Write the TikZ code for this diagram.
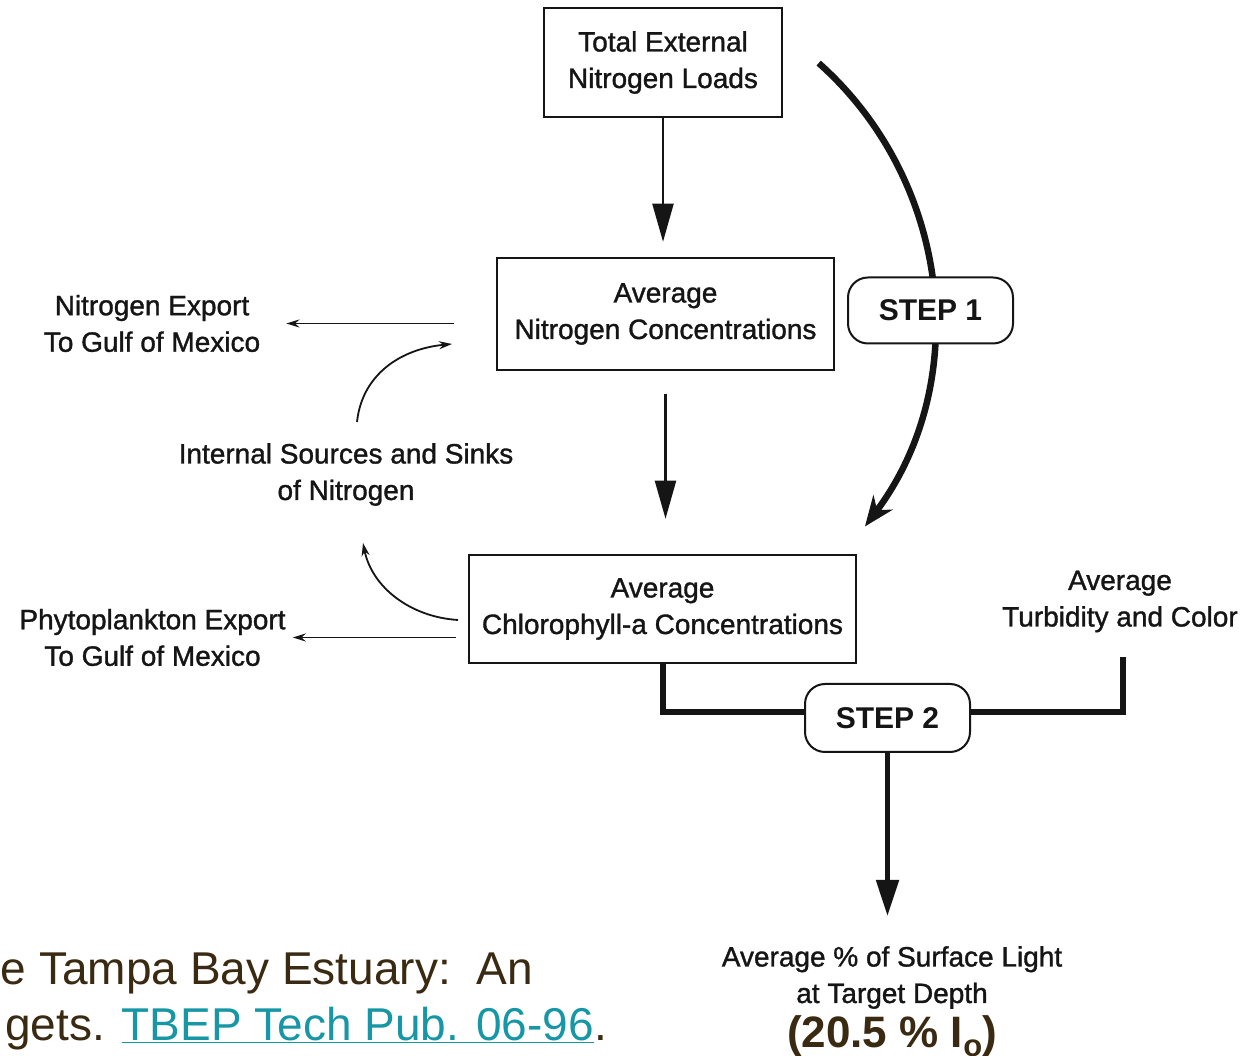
\documentclass[tikz,border=0pt]{standalone}
\usepackage{fontspec}
\setmainfont{Liberation Sans}
\newfontfamily\scanfam[FakeBold=1.2]{Liberation Sans}
\usetikzlibrary{arrows.meta}
\definecolor{ink}{HTML}{151515}
\definecolor{capbrown}{HTML}{3A2A12}
\definecolor{linkteal}{HTML}{1796A6}
\newcommand\dgfont{\scanfam\fontsize{28}{36.5}\selectfont}
\newcommand\stpfont{\fontsize{30}{36}\selectfont\bfseries}
\newcommand\capfnt{\fontsize{46}{55}\selectfont}
\newcommand\iofnt{\fontsize{44}{50}\selectfont\bfseries}
\tikzset{
  box/.style={draw=ink, line width=2.5pt, fill=white, align=center, font=\dgfont, text=ink, inner sep=0pt},
  stepbox/.style={draw=ink, line width=2pt, rounded corners=20pt, fill=white, minimum width=165pt, minimum height=66pt, font=\stpfont, text=ink, inner sep=0pt},
  lbl/.style={align=center, font=\dgfont, text=ink, inner sep=0pt},
  flow/.style={draw=ink, line width=2.2pt, -{Triangle[length=38pt,width=21pt]}},
  thinarr/.style={draw=ink, line width=1.8pt, -{Stealth[length=13pt,width=8pt]}},
  bigarr/.style={draw=ink, line width=6.5pt, -{Stealth[length=30pt,width=24pt]}},
  thickline/.style={draw=ink, line width=6pt, line join=miter},
  caption/.style={font=\capfnt, text=capbrown, inner sep=0pt}
}
\begin{document}
\begin{tikzpicture}[x=1pt,y=1pt]
\useasboundingbox (0,0) rectangle (1245,1055);
\clip (0,0) rectangle (1245,1055);
\fill[white] (0,0) rectangle (1245,1055);

% main boxes
\node[box, minimum width=238pt, minimum height=109pt] (b1) at (663,992.5) {Total External\\Nitrogen Loads};
\node[box, minimum width=337pt, minimum height=112pt] (b2) at (665.5,741) {Average\\Nitrogen Concentrations};
\node[box, minimum width=387pt, minimum height=108pt] (b3) at (662.5,446) {Average\\Chlorophyll-a Concentrations};

% labels
\node[lbl] (nexp) at (152,731.5) {Nitrogen Export\\To Gulf of Mexico};
\node[lbl] (pexp) at (152.5,417.5) {Phytoplankton Export\\To Gulf of Mexico};
\node[lbl] (isn) at (346,580.5) {Internal Sources and Sinks\\of Nitrogen};
\node[lbl] (tc) at (1120,453.5) {Average\\Turbidity and Color};
\node[lbl] (lt) at (892,77.5) {Average \% of Surface Light\\at Target Depth};
\node[anchor=base, font=\iofnt, text=capbrown, inner sep=0pt] (io) at (892,8) {(20.5 \% I\raisebox{-10pt}{\fontsize{31}{31}\selectfont o})};

% main flow arrows
\draw[flow, shorten >=15pt] (b1.south) -- (b1.south |- b2.north);
\draw[flow, shorten <=23pt, shorten >=35pt] (b2.south) -- (b2.south |- b3.north);

% export arrows
\draw[thinarr, shorten <=42pt, shorten >=26pt] (b2.west |- nexp.east) -- (nexp.east);
\draw[thinarr, shorten <=12pt, shorten >=7pt] (b3.west |- pexp.east) -- (pexp.east);

% internal sources / sinks curves
\coordinate (c1s) at (357,633);
\coordinate (c1e) at (452,711);
\draw[thinarr] (c1s) .. controls (362,680) and (400,706) .. (c1e);
\coordinate (c2s) at (458,435);
\coordinate (c2e) at (363,512);
\draw[thinarr] (c2s) .. controls (410,438) and (372,468) .. (c2e);

% step 1 arc
\coordinate (s1a) at (818.7,991.9);
\draw[bigarr] (s1a) arc[start angle=48.3, end angle=-36.9, radius=344];
\node[stepbox] (s1) at (930.5,744.5) {STEP 1};

% step 2
\node[stepbox, minimum height=68pt] (s2) at (887.5,337) {STEP 2};
\coordinate (tcb) at (1123,398);
\draw[thickline] (b3.south) |- ([yshift=6pt]s2.west);
\draw[thickline] ([yshift=6pt]s2.east) -| (tcb);
\draw[draw=ink, line width=5pt, -{Triangle[length=36pt,width=22pt]}, shorten >=30pt] (s2.south) -- (s2.south |- lt.north);

% caption (cut by the frame)
\node[caption, anchor=base east] (cap1) at (533,70) {e Tampa Bay Estuary:\ \ An};
\node[caption, anchor=base east] (cap2) at (607,15) {gets. \textcolor{linkteal}{\underline{TBEP Tech Pub. 06-96}}.};
\end{tikzpicture}
\end{document}
